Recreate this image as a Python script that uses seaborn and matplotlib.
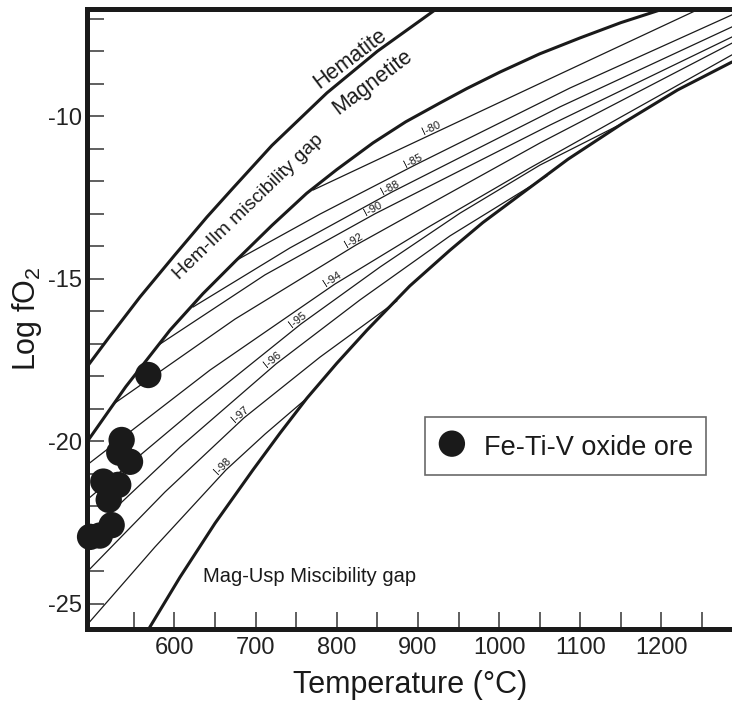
import numpy as np
import pandas as pd
import matplotlib
matplotlib.use("Agg")
import matplotlib.pyplot as plt
import seaborn as sns

# ---------------- data ----------------
# Fe-Ti-V oxide ore samples (T in °C, log fO2)
ore_T = [567.7, 534.9, 545.2, 532.0, 512.3, 530.7, 519.0, 522.6, 508.0, 496.0]
ore_fO2 = [-17.96, -19.96, -20.63, -20.35, -21.24, -21.34, -21.80, -22.58, -22.90, -22.94]

# Hematite / Magnetite boundary
hm_T = [492.2, 520.0, 557.5, 600.0, 640.0, 672.1, 720.0, 787.9, 850.0, 921.0, 940.0]
hm_fO2 = [-17.71, -16.78, -15.56, -14.28, -13.10, -12.21, -10.90, -9.28, -8.00, -6.73, -6.40]

# Hem-Ilm miscibility gap boundary
hi_T = [492.2, 540.0, 594.5, 635.0, 676.6, 720.0, 762.9, 800.0, 844.6, 885.0, 927.2,
        960.0, 1001.1, 1050.0, 1099.7, 1150.0, 1198.3, 1230.0]
hi_fO2 = [-20.02, -18.32, -16.58, -15.46, -14.42, -13.36, -12.37, -11.64, -10.82, -10.17,
          -9.59, -9.15, -8.64, -8.08, -7.59, -7.12, -6.73, -6.47]

# Mag-Usp miscibility gap boundary
mu_T = [560.0, 569.8, 606.8, 650.0, 696.7, 730.0, 763.3, 800.0, 837.2, 890.0, 939.5,
        980.0, 1017.1, 1085.0, 1152.7, 1220.0, 1287.0]
mu_fO2 = [-26.12, -25.71, -24.18, -22.52, -20.88, -19.75, -18.67, -17.60, -16.58, -15.22,
          -14.12, -13.27, -12.58, -11.32, -10.21, -9.19, -8.33]

# ilmenite isopleths
iso_labels = ["I-80", "I-85", "I-88", "I-90", "I-92", "I-94", "I-95", "I-96", "I-97", "I-98"]
iso_T = [
    [770.7, 919.8, 1075.1, 1243.9],
    [677.0, 779.3, 896.4, 1087.4, 1287.0],
    [622.8, 742.3, 868.0, 1075.1, 1287.0],
    [582.1, 711.5, 847.1, 1062.8, 1287.0],
    [526.7, 674.6, 823.7, 1050.5, 1287.0],
    [492.2, 643.7, 797.8, 914.9, 1038.1, 1287.0],
    [492.2, 625.3, 755.9, 853.2, 951.9, 1050.5, 1152.7],
    [492.2, 606.8, 725.1, 828.6, 939.5, 1059.0],
    [492.2, 588.3, 685.6, 779.3, 874.2],
    [492.2, 576.0, 663.5, 711.5, 763.3],
]
iso_fO2 = [
    [-12.27, -10.52, -8.70, -6.73],
    [-14.42, -13.01, -11.50, -9.13, -6.88],
    [-15.87, -14.05, -12.33, -9.71, -7.25],
    [-17.01, -14.88, -13.00, -10.27, -7.56],
    [-18.82, -16.24, -13.96, -10.82, -7.75],
    [-20.73, -17.81, -15.16, -13.38, -11.59, -8.11],
    [-21.80, -19.01, -16.39, -14.64, -12.98, -11.50, -10.21],
    [-22.88, -20.18, -17.62, -15.65, -13.68, -11.84],
    [-24.02, -21.56, -19.28, -17.41, -15.68],
    [-25.65, -23.25, -20.88, -19.78, -18.67],
]
iso_label_T = [919.8, 896.4, 868.0, 847.1, 823.7, 797.8, 755.9, 725.1, 685.6, 663.5]

x_major = [600, 700, 800, 900, 1000, 1100, 1200]
y_major = [-25, -20, -15, -10]

# ---------------- style ----------------
sns.set_style("white")
plt.rcParams['font.family'] = ['Liberation Sans', 'DejaVu Sans']
plt.rcParams['axes.unicode_minus'] = False
plt.rcParams['mathtext.default'] = 'regular'

INK = '#1a1a1a'
fig = plt.figure(figsize=(7.32, 7.09), dpi=100)
ax = fig.add_axes([0.1195, 0.1135, 0.8805, 0.8738])
ax.set_xlim(492.8, 1287.0)
ax.set_ylim(-25.76, -6.70)

def draw(T, F, lw):
    df = pd.DataFrame({"T": T, "F": F})
    sns.lineplot(data=df, x="T", y="F", sort=False, estimator=None,
                 color=INK, linewidth=lw, ax=ax, legend=False)

draw(hm_T, hm_fO2, 2.2)
draw(hi_T, hi_fO2, 2.2)
draw(mu_T, mu_fO2, 2.2)
for T, F in zip(iso_T, iso_fO2):
    draw(T, F, 0.9)

sns.scatterplot(x=ore_T, y=ore_fO2, s=360, color=INK, edgecolor='none',
                label='Fe-Ti-V oxide ore', ax=ax, zorder=5, clip_on=False)

# isopleth labels
fig.canvas.draw()
for lab, T, F, tl in zip(iso_labels, iso_T, iso_fO2, iso_label_T):
    fy = np.interp(tl, T, F)
    p0 = ax.transData.transform((tl - 15, np.interp(tl - 15, T, F)))
    p1 = ax.transData.transform((tl + 15, np.interp(tl + 15, T, F)))
    ang = np.degrees(np.arctan2(p1[1] - p0[1], p1[0] - p0[0]))
    ax.text(tl, fy, lab, fontsize=8, rotation=ang, rotation_mode='anchor',
            ha='center', va='bottom', color=INK)

# region labels
ax.text(816.3, -8.24, 'Hematite', fontsize=15.5, rotation=37, ha='center', va='center',
        rotation_mode='anchor', color=INK)
ax.text(844.6, -8.95, 'Magnetite', fontsize=15.5, rotation=37, ha='center', va='center',
        rotation_mode='anchor', color=INK)
ax.text(690.6, -12.80, 'Hem-Ilm miscibility gap', fontsize=14, rotation=44, ha='center',
        va='center', rotation_mode='anchor', color=INK)
ax.text(635.1, -24.33, 'Mag-Usp Miscibility gap', fontsize=14.5, ha='left',
        va='baseline', color=INK)

# axes / ticks
for s in ['left', 'bottom', 'top']:
    ax.spines[s].set_linewidth(3.6)
    ax.spines[s].set_color(INK)
    ax.spines[s].set_zorder(6)
ax.spines['right'].set_visible(False)

ax.set_xticks(x_major)
ax.set_xticks([550, 650, 750, 850, 950, 1050, 1150, 1250], minor=True)
ax.set_yticks(y_major)
ax.set_yticks([v for v in range(-25, -6) if v not in y_major], minor=True)
ax.tick_params(which='both', direction='in', length=12.5, width=1.2, color='#444444',
               top=False, right=False, left=True, bottom=True)
ax.tick_params(axis='x', which='major', labelsize=17, pad=6, labelcolor='#222222')
ax.tick_params(axis='y', which='major', labelsize=17, pad=4, labelcolor='#222222')

ax.set_xlabel('Temperature (°C)', fontsize=22, labelpad=8, color=INK)
ax.set_ylabel('Log fO$_2$', fontsize=22, labelpad=3, color=INK)

leg = ax.legend(loc='center', bbox_to_anchor=(0.7417, 0.2946), frameon=True,
                fancybox=False, fontsize=19.5, handlelength=1.0, handletextpad=0.67,
                handleheight=1.35, borderpad=0.5, markerscale=1.0)
leg.get_frame().set_edgecolor('#444444')
leg.get_frame().set_linewidth(1.2)
for t in leg.get_texts():
    t.set_color(INK)

fig.savefig('out.png', dpi=100)
